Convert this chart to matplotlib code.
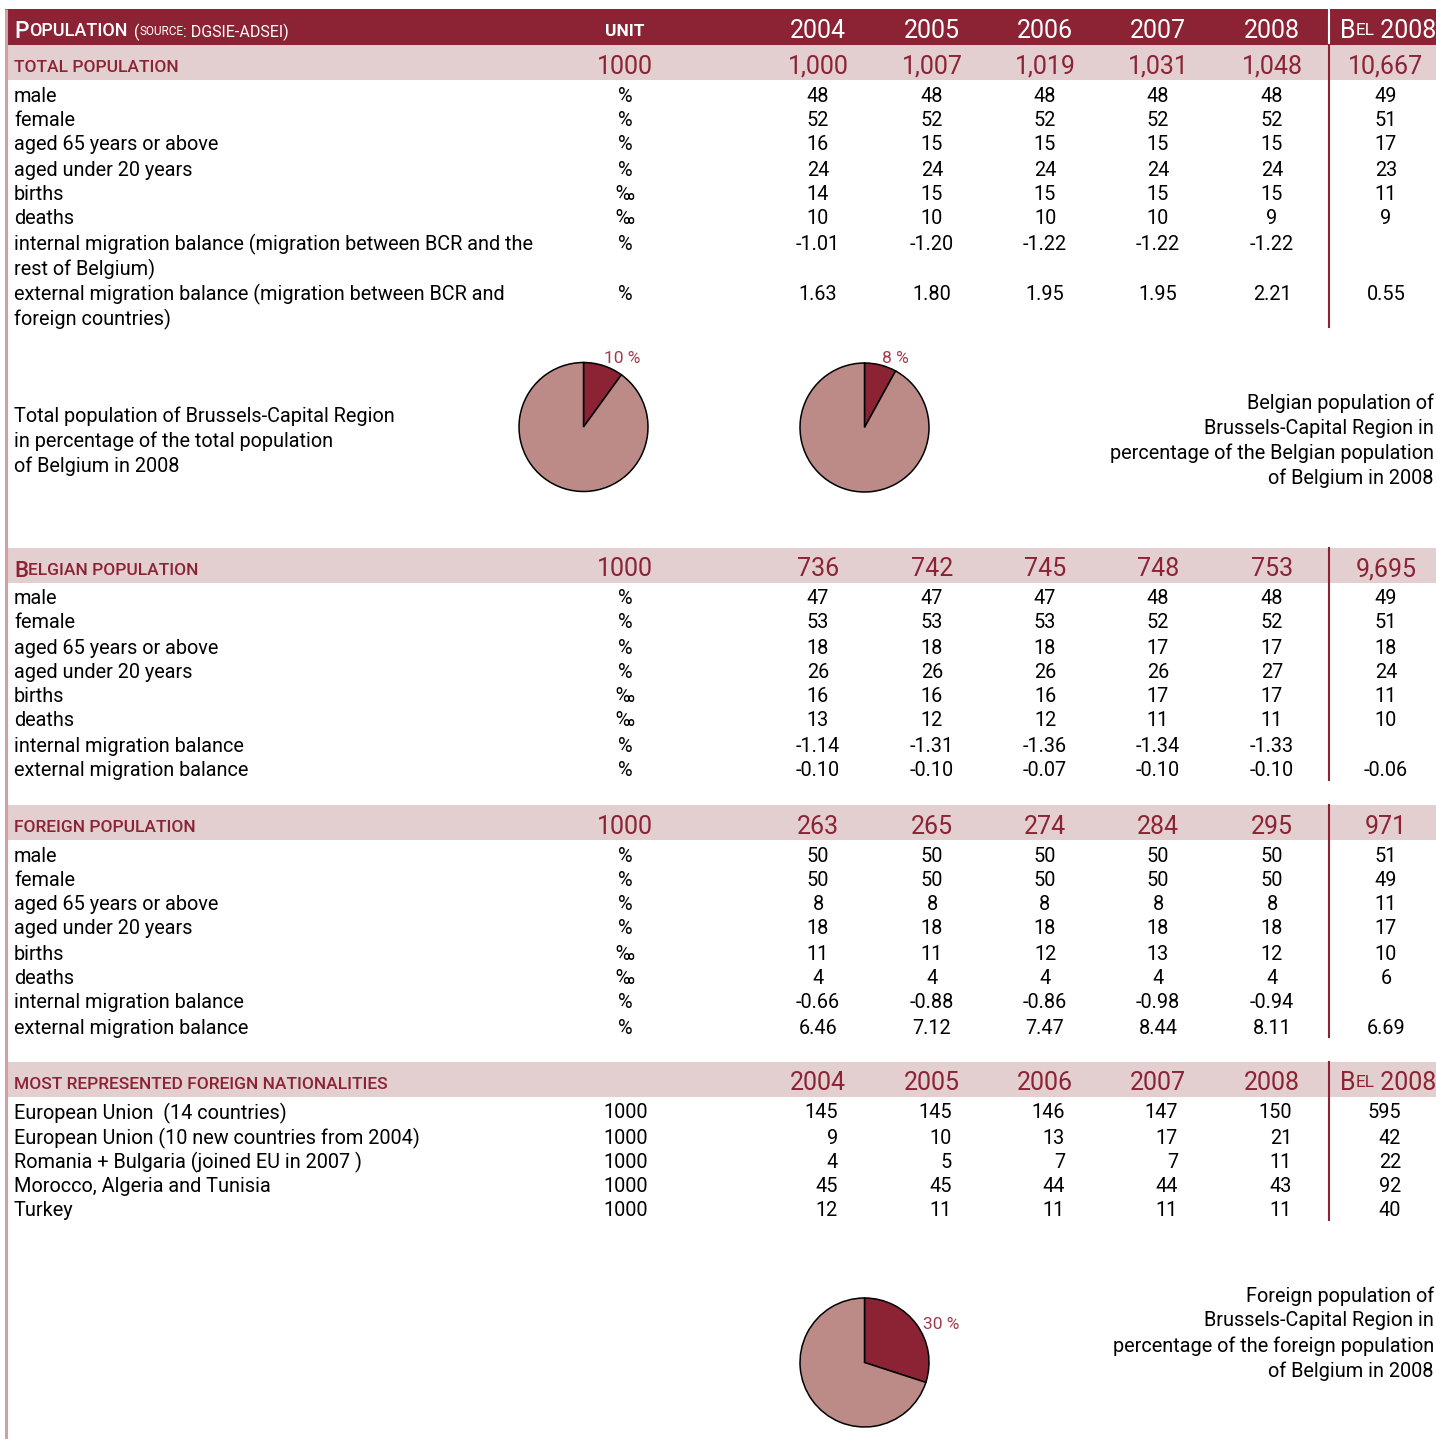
import matplotlib.pyplot as plt
from matplotlib.patches import Rectangle

plt.rcParams['font.family'] = ['Roboto', 'DejaVu Sans']

# ---- data -------------------------------------------------------------
years = ['2004', '2005', '2006', '2007', '2008']

row_labels = ['male', 'female', 'aged 65 years or above', 'aged under 20 years',
              'births', 'deaths', 'internal migration balance',
              'external migration balance']
row_units = ['%', '%', '%', '%', '‰', '‰', '%', '%']

# total population
total_pop = [1000, 1007, 1019, 1031, 1048]
total_bel = 10667
total_rows = [[48, 48, 48, 48, 48], [52, 52, 52, 52, 52], [16, 15, 15, 15, 15],
              [24, 24, 24, 24, 24], [14, 15, 15, 15, 15], [10, 10, 10, 10, 9],
              [-1.01, -1.20, -1.22, -1.22, -1.22], [1.63, 1.80, 1.95, 1.95, 2.21]]
total_rows_bel = [49, 51, 17, 23, 11, 9, None, 0.55]

# belgian population
belg_pop = [736, 742, 745, 748, 753]
belg_bel = 9695
belg_rows = [[47, 47, 47, 48, 48], [53, 53, 53, 52, 52], [18, 18, 18, 17, 17],
             [26, 26, 26, 26, 27], [16, 16, 16, 17, 17], [13, 12, 12, 11, 11],
             [-1.14, -1.31, -1.36, -1.34, -1.33], [-0.10, -0.10, -0.07, -0.10, -0.10]]
belg_rows_bel = [49, 51, 18, 24, 11, 10, None, -0.06]

# foreign population
forg_pop = [263, 265, 274, 284, 295]
forg_bel = 971
forg_rows = [[50, 50, 50, 50, 50], [50, 50, 50, 50, 50], [8, 8, 8, 8, 8],
             [18, 18, 18, 18, 18], [11, 11, 12, 13, 12], [4, 4, 4, 4, 4],
             [-0.66, -0.88, -0.86, -0.98, -0.94], [6.46, 7.12, 7.47, 8.44, 8.11]]
forg_rows_bel = [51, 49, 11, 17, 10, 6, None, 6.69]

# nationalities
nat_labels = ['European Union  (14 countries)', 'European Union (10 new countries from 2004)',
              'Romania + Bulgaria (joined EU in 2007 )', 'Morocco, Algeria and Tunisia', 'Turkey']
nat_rows = [[145, 145, 146, 147, 150], [9, 10, 13, 17, 21], [4, 5, 7, 7, 11],
            [45, 45, 44, 44, 43], [12, 11, 11, 11, 11]]
nat_rows_bel = [595, 42, 22, 92, 40]

# pie shares (%)
share_total = 10
share_belgian = 8
share_foreign = 30

# ---- style --------------------------------------------------------------
DARK = '#8b2335'
BAND = '#e3cfcf'
PIE_LIGHT = '#bd8b87'
LABEL_RED = '#a3394c'
W, H = 1436, 1439

fig = plt.figure(figsize=(W / 100, H / 100), dpi=100)
ax = fig.add_axes([0, 0, 1, 1])
ax.set_xlim(0, W)
ax.set_ylim(H, 0)
ax.axis('off')
renderer = fig.canvas.get_renderer()

unit_x = 625
col_x = [818, 932, 1045, 1158, 1272]
bel_x = 1386
sep_x = 1329
FS = 14.3
BIG = 18
CAP = 12.5


def fmt(v):
    if v is None:
        return ''
    if isinstance(v, str):
        return v
    if isinstance(v, float):
        return f'{v:.2f}'
    return f'{v:,}'


def pieces(x, y, parts, color, va='center_baseline', weight='normal'):
    # draw consecutive text parts (fake small caps)
    for s, size in parts:
        t = ax.text(x, y, s, fontsize=size, color=color, ha='left', va=va, weight=weight)
        x += t.get_window_extent(renderer).width
    return x


# left border and header bar
ax.plot([6, 6], [9, H], color='#d4a0a8', lw=2.2, solid_capstyle='butt')
ax.add_patch(Rectangle((5, 9), W - 5, 36, color=DARK, lw=0))
pieces(14, 29, [('P', 16.5), ('OPULATION', 13)], 'white', weight='medium')
pieces(134, 30, [('(', 11.5), ('SOURCE', 8.5), (': DGSIE-ADSEI)', 11.5)], 'white')
ax.text(unit_x, 30, 'UNIT', fontsize=12.5, color='white', ha='center', va='center_baseline', weight='bold')
for x, yr in zip(col_x, years):
    ax.text(x, 29, yr, fontsize=BIG, color='white', ha='center', va='center_baseline')
pieces(1340, 29, [('B', BIG), ('EL', CAP), (' 2008', BIG)], 'white')
ax.plot([sep_x, sep_x], [9, 45], color='white', lw=1.5)


def band(y0, title_parts, unit, vals, bel):
    ax.add_patch(Rectangle((7, y0), W - 7, 35, color=BAND, lw=0))
    yc = y0 + 19
    pieces(14, yc + 2, title_parts, DARK, weight='medium')
    if unit:
        ax.text(unit_x, yc, unit, fontsize=BIG, color=DARK, ha='center', va='center_baseline')
    for x, v in zip(col_x, vals):
        ax.text(x, yc, fmt(v), fontsize=BIG, color=DARK, ha='center', va='center_baseline')
    if bel == 'bel':
        pieces(1340, yc, [('B', BIG), ('EL', CAP), (' 2008', BIG)], DARK)
    else:
        ax.text(bel_x, yc, fmt(bel), fontsize=BIG, color=DARK, ha='center', va='center_baseline')


def body(ys, labels, units, rows, bel_vals):
    for i, y in enumerate(ys):
        ax.text(14, y, labels[i], fontsize=FS, ha='left', va='center_baseline')
        ax.text(unit_x, y, units[i], fontsize=FS, ha='center', va='center_baseline')
        for x, v in zip(col_x, rows[i]):
            ax.text(x, y, fmt(v), fontsize=FS, ha='center', va='center_baseline')
        ax.text(bel_x, y, fmt(bel_vals[i]), fontsize=FS, ha='center', va='center_baseline')


# section 1: total population
band(45, [('TOTAL POPULATION', CAP)], '1000', total_pop, total_bel)
labels1 = row_labels[:6] + ['internal migration balance (migration between BCR and the\nrest of Belgium)',
                            'external migration balance (migration between BCR and\nforeign countries)']
ys1 = [94, 119, 143, 168, 192, 217, 242, 292]
for i, y in enumerate(ys1):
    lines = labels1[i].split('\n')
    for k, ln in enumerate(lines):
        ax.text(14, y + 25 * k, ln, fontsize=FS, ha='left', va='center_baseline')
    ax.text(unit_x, y, row_units[i], fontsize=FS, ha='center', va='center_baseline')
    for x, v in zip(col_x, total_rows[i]):
        ax.text(x, y, fmt(v), fontsize=FS, ha='center', va='center_baseline')
    ax.text(bel_x, y, fmt(total_rows_bel[i]), fontsize=FS, ha='center', va='center_baseline')
ax.plot([sep_x, sep_x], [45, 327], color=DARK, lw=1.5)

# section 2: belgian population
band(548, [('B', 16), ('ELGIAN POPULATION', CAP)], '1000', belg_pop, belg_bel)
ys2 = [597, 621, 646, 670, 695, 719, 744, 769]
body(ys2, row_labels, row_units, belg_rows, belg_rows_bel)
ax.plot([sep_x, sep_x], [548, 780], color=DARK, lw=1.5)

# section 3: foreign population
band(805, [('FOREIGN POPULATION', CAP)], '1000', forg_pop, forg_bel)
ys3 = [854, 878, 903, 927, 952, 976, 1001, 1026]
body(ys3, row_labels, row_units, forg_rows, forg_rows_bel)
ax.plot([sep_x, sep_x], [805, 1037], color=DARK, lw=1.5)

# section 4: nationalities
band(1062, [('MOST REPRESENTED FOREIGN NATIONALITIES', CAP)], None, years, 'bel')
ys4 = [1111, 1136, 1160, 1185, 1209]
for i, y in enumerate(ys4):
    ax.text(14, y, nat_labels[i], fontsize=FS, ha='left', va='center_baseline')
    ax.text(626, y, '1000', fontsize=FS, ha='center', va='center_baseline')
    for x, v in zip(col_x, nat_rows[i]):
        ax.text(x + 20, y, fmt(v), fontsize=FS, ha='right', va='center_baseline')
    ax.text(bel_x + 15, y, fmt(nat_rows_bel[i]), fontsize=FS, ha='right', va='center_baseline')
ax.plot([sep_x, sep_x], [1062, 1220], color=DARK, lw=1.5)

# pie descriptions
for k, ln in enumerate(['Total population of Brussels-Capital Region',
                        'in percentage of the total population', 'of Belgium in 2008']):
    ax.text(14, 414 + 25 * k, ln, fontsize=FS, ha='left', va='center_baseline')
for k, ln in enumerate(['Belgian population of', 'Brussels-Capital Region in',
                        'percentage of the Belgian population', 'of Belgium in 2008']):
    ax.text(1434, 401 + 25 * k, ln, fontsize=FS, ha='right', va='center_baseline')
for k, ln in enumerate(['Foreign population of', 'Brussels-Capital Region in',
                        'percentage of the foreign population', 'of Belgium in 2008']):
    ax.text(1434, 1294 + 25 * k, ln, fontsize=FS, ha='right', va='center_baseline')


def pie(cx, cy, r, share, lx, ly):
    pa = fig.add_axes([(cx - r - 2) / W, 1 - (cy + r + 2) / H, (2 * r + 4) / W, (2 * r + 4) / H])
    pa.pie([share, 100 - share], colors=[DARK, PIE_LIGHT], startangle=90, counterclock=False,
           radius=1, wedgeprops=dict(edgecolor='black', linewidth=1.1), frame=True)
    lim = 1 + 2 / r
    pa.set_xlim(-lim, lim)
    pa.set_ylim(-lim, lim)
    pa.axis('off')
    ax.text(lx, ly, f'{share} %', fontsize=12.5, color=LABEL_RED, ha='center', va='center_baseline')


pie(583.5, 427, 64.5, share_total, 622, 357)
pie(864.5, 427.5, 64.5, share_belgian, 895, 357)
pie(864.5, 1362.5, 64.5, share_foreign, 941, 1323)

fig.savefig('out.png', dpi=100)
